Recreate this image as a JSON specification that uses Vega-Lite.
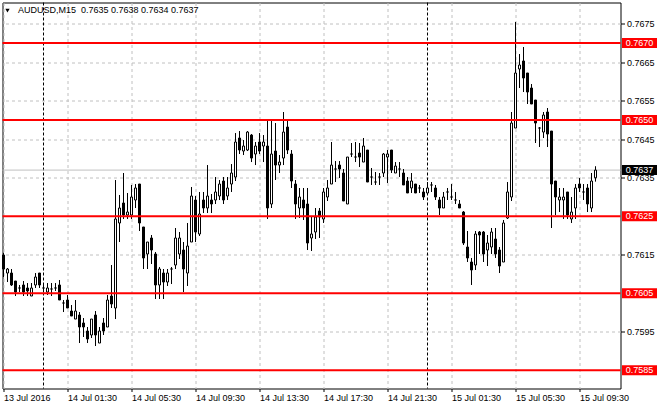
{
  "$schema": "https://vega.github.io/schema/vega-lite/v6.json",
  "width": 618,
  "height": 386,
  "autosize": {"type": "none"},
  "padding": {"left": 2.5, "top": 2.5, "right": 39.5, "bottom": 21.5},
  "background": "white",
  "config": {
    "view": {"stroke": "black", "strokeWidth": 1},
    "font": "Liberation Sans",
    "axis": {"labelFont": "Liberation Sans", "labelFontSize": 9, "labelColor": "black", "tickColor": "black", "domain": false, "gridColor": "#c0c0c0", "gridDash": [3, 3], "gridWidth": 1, "title": null}
  },
  "datasets": {
    "candles": [
      {"t":"2016-07-13T21:30","o":0.761495,"h":0.761547,"l":0.760923,"c":0.761131},
      {"t":"2016-07-13T21:45","o":0.761027,"h":0.761157,"l":0.760793,"c":0.761131},
      {"t":"2016-07-13T22:00","o":0.761027,"h":0.761131,"l":0.760690,"c":0.760716},
      {"t":"2016-07-13T22:15","o":0.760819,"h":0.760819,"l":0.760430,"c":0.760534},
      {"t":"2016-07-13T22:30","o":0.760638,"h":0.760716,"l":0.760534,"c":0.760638},
      {"t":"2016-07-13T22:45","o":0.760716,"h":0.760819,"l":0.760430,"c":0.760534},
      {"t":"2016-07-13T23:00","o":0.760638,"h":0.760767,"l":0.760430,"c":0.760560},
      {"t":"2016-07-13T23:15","o":0.760430,"h":0.760767,"l":0.760430,"c":0.760638},
      {"t":"2016-07-13T23:30","o":0.760716,"h":0.761027,"l":0.760638,"c":0.760923},
      {"t":"2016-07-13T23:45","o":0.761027,"h":0.761027,"l":0.760638,"c":0.760716},
      {"t":"2016-07-14T00:00","o":0.760638,"h":0.760767,"l":0.760534,"c":0.760638},
      {"t":"2016-07-14T00:15","o":0.760534,"h":0.760767,"l":0.760456,"c":0.760638},
      {"t":"2016-07-14T00:30","o":0.760612,"h":0.760767,"l":0.760430,"c":0.760612},
      {"t":"2016-07-14T00:45","o":0.760638,"h":0.760767,"l":0.760560,"c":0.760638},
      {"t":"2016-07-14T01:00","o":0.760716,"h":0.760845,"l":0.760326,"c":0.760326},
      {"t":"2016-07-14T01:15","o":0.760248,"h":0.760326,"l":0.760014,"c":0.760248},
      {"t":"2016-07-14T01:30","o":0.760326,"h":0.760456,"l":0.760118,"c":0.760118},
      {"t":"2016-07-14T01:45","o":0.760040,"h":0.760196,"l":0.759910,"c":0.759910},
      {"t":"2016-07-14T02:00","o":0.759832,"h":0.760326,"l":0.759832,"c":0.760040},
      {"t":"2016-07-14T02:15","o":0.759936,"h":0.760014,"l":0.759209,"c":0.759625},
      {"t":"2016-07-14T02:30","o":0.759729,"h":0.759858,"l":0.759365,"c":0.759625},
      {"t":"2016-07-14T02:45","o":0.759521,"h":0.759625,"l":0.759209,"c":0.759313},
      {"t":"2016-07-14T03:00","o":0.759417,"h":0.759832,"l":0.759339,"c":0.759832},
      {"t":"2016-07-14T03:15","o":0.759936,"h":0.760040,"l":0.759131,"c":0.759417},
      {"t":"2016-07-14T03:30","o":0.759209,"h":0.759625,"l":0.759209,"c":0.759521},
      {"t":"2016-07-14T03:45","o":0.759729,"h":0.759858,"l":0.759417,"c":0.759521},
      {"t":"2016-07-14T04:00","o":0.759625,"h":0.760456,"l":0.759625,"c":0.760326},
      {"t":"2016-07-14T04:15","o":0.760430,"h":0.761235,"l":0.760118,"c":0.760222},
      {"t":"2016-07-14T04:30","o":0.760118,"h":0.763442,"l":0.759832,"c":0.762430},
      {"t":"2016-07-14T04:45","o":0.762326,"h":0.763053,"l":0.761832,"c":0.762715},
      {"t":"2016-07-14T05:00","o":0.762845,"h":0.763624,"l":0.762430,"c":0.762533},
      {"t":"2016-07-14T05:15","o":0.762533,"h":0.763105,"l":0.762430,"c":0.762611},
      {"t":"2016-07-14T05:30","o":0.762533,"h":0.763313,"l":0.762430,"c":0.763001},
      {"t":"2016-07-14T05:45","o":0.762923,"h":0.763338,"l":0.762715,"c":0.763235},
      {"t":"2016-07-14T06:00","o":0.763338,"h":0.763338,"l":0.762118,"c":0.762326},
      {"t":"2016-07-14T06:15","o":0.762222,"h":0.762222,"l":0.761131,"c":0.761417},
      {"t":"2016-07-14T06:30","o":0.761521,"h":0.761832,"l":0.761131,"c":0.761832},
      {"t":"2016-07-14T06:45","o":0.761936,"h":0.762014,"l":0.761261,"c":0.761624},
      {"t":"2016-07-14T07:00","o":0.761521,"h":0.761573,"l":0.760352,"c":0.760716},
      {"t":"2016-07-14T07:15","o":0.760716,"h":0.761183,"l":0.760352,"c":0.761131},
      {"t":"2016-07-14T07:30","o":0.761027,"h":0.761131,"l":0.760352,"c":0.760793},
      {"t":"2016-07-14T07:45","o":0.760793,"h":0.761131,"l":0.760690,"c":0.761027},
      {"t":"2016-07-14T08:00","o":0.761131,"h":0.761183,"l":0.760741,"c":0.761131},
      {"t":"2016-07-14T08:15","o":0.761235,"h":0.762196,"l":0.761131,"c":0.761936},
      {"t":"2016-07-14T08:30","o":0.761521,"h":0.762092,"l":0.761391,"c":0.761936},
      {"t":"2016-07-14T08:45","o":0.761624,"h":0.761832,"l":0.760534,"c":0.761131},
      {"t":"2016-07-14T09:00","o":0.761027,"h":0.762326,"l":0.760690,"c":0.761728},
      {"t":"2016-07-14T09:15","o":0.761832,"h":0.763261,"l":0.761832,"c":0.763027},
      {"t":"2016-07-14T09:30","o":0.762923,"h":0.763027,"l":0.761832,"c":0.762092},
      {"t":"2016-07-14T09:45","o":0.762040,"h":0.763131,"l":0.761988,"c":0.762559},
      {"t":"2016-07-14T10:00","o":0.762923,"h":0.763131,"l":0.762585,"c":0.762715},
      {"t":"2016-07-14T10:15","o":0.762715,"h":0.763831,"l":0.762585,"c":0.763027},
      {"t":"2016-07-14T10:30","o":0.762923,"h":0.763079,"l":0.762585,"c":0.762819},
      {"t":"2016-07-14T10:45","o":0.762923,"h":0.763520,"l":0.762819,"c":0.763131},
      {"t":"2016-07-14T11:00","o":0.763027,"h":0.763442,"l":0.762923,"c":0.763338},
      {"t":"2016-07-14T11:15","o":0.763416,"h":0.763520,"l":0.762819,"c":0.762923},
      {"t":"2016-07-14T11:30","o":0.763027,"h":0.763520,"l":0.762923,"c":0.763235},
      {"t":"2016-07-14T11:45","o":0.763338,"h":0.763857,"l":0.763131,"c":0.763624},
      {"t":"2016-07-14T12:00","o":0.763520,"h":0.764662,"l":0.763416,"c":0.764429},
      {"t":"2016-07-14T12:15","o":0.764533,"h":0.764714,"l":0.764117,"c":0.764221},
      {"t":"2016-07-14T12:30","o":0.764195,"h":0.764481,"l":0.764091,"c":0.764325},
      {"t":"2016-07-14T12:45","o":0.764221,"h":0.764714,"l":0.764195,"c":0.764688},
      {"t":"2016-07-14T13:00","o":0.764610,"h":0.764636,"l":0.763909,"c":0.764013},
      {"t":"2016-07-14T13:15","o":0.764117,"h":0.764429,"l":0.763831,"c":0.764325},
      {"t":"2016-07-14T13:30","o":0.764429,"h":0.764662,"l":0.764117,"c":0.764195},
      {"t":"2016-07-14T13:45","o":0.764325,"h":0.764610,"l":0.763909,"c":0.764429},
      {"t":"2016-07-14T14:00","o":0.764325,"h":0.765000,"l":0.762430,"c":0.762715},
      {"t":"2016-07-14T14:15","o":0.762819,"h":0.765000,"l":0.762715,"c":0.764117},
      {"t":"2016-07-14T14:30","o":0.764195,"h":0.764922,"l":0.763442,"c":0.763831},
      {"t":"2016-07-14T14:45","o":0.763831,"h":0.764091,"l":0.763624,"c":0.763909},
      {"t":"2016-07-14T15:00","o":0.764013,"h":0.765208,"l":0.763831,"c":0.764688},
      {"t":"2016-07-14T15:15","o":0.764818,"h":0.765000,"l":0.764117,"c":0.764221},
      {"t":"2016-07-14T15:30","o":0.764117,"h":0.764221,"l":0.763235,"c":0.763416},
      {"t":"2016-07-14T15:45","o":0.763338,"h":0.763442,"l":0.762430,"c":0.762819},
      {"t":"2016-07-14T16:00","o":0.762715,"h":0.763235,"l":0.762456,"c":0.763001},
      {"t":"2016-07-14T16:15","o":0.762923,"h":0.763235,"l":0.762404,"c":0.762715},
      {"t":"2016-07-14T16:30","o":0.762819,"h":0.763235,"l":0.761624,"c":0.761806},
      {"t":"2016-07-14T16:45","o":0.761936,"h":0.762482,"l":0.761599,"c":0.762040},
      {"t":"2016-07-14T17:00","o":0.762092,"h":0.762715,"l":0.761910,"c":0.762482},
      {"t":"2016-07-14T17:15","o":0.762637,"h":0.762715,"l":0.761936,"c":0.762482},
      {"t":"2016-07-14T17:30","o":0.762430,"h":0.763235,"l":0.762326,"c":0.763131},
      {"t":"2016-07-14T17:45","o":0.763001,"h":0.763442,"l":0.762897,"c":0.763235},
      {"t":"2016-07-14T18:00","o":0.763338,"h":0.764429,"l":0.763338,"c":0.763831},
      {"t":"2016-07-14T18:15","o":0.763728,"h":0.763935,"l":0.763390,"c":0.763728},
      {"t":"2016-07-14T18:30","o":0.763831,"h":0.763935,"l":0.763494,"c":0.763728},
      {"t":"2016-07-14T18:45","o":0.763624,"h":0.763728,"l":0.762897,"c":0.762897},
      {"t":"2016-07-14T19:00","o":0.762819,"h":0.764039,"l":0.762819,"c":0.764039},
      {"t":"2016-07-14T19:15","o":0.764117,"h":0.764403,"l":0.764039,"c":0.764117},
      {"t":"2016-07-14T19:30","o":0.764039,"h":0.764429,"l":0.763909,"c":0.764039},
      {"t":"2016-07-14T19:45","o":0.764143,"h":0.764403,"l":0.763779,"c":0.764039},
      {"t":"2016-07-14T20:00","o":0.763909,"h":0.764533,"l":0.763909,"c":0.764325},
      {"t":"2016-07-14T20:15","o":0.764221,"h":0.764221,"l":0.763390,"c":0.763390},
      {"t":"2016-07-14T20:30","o":0.763520,"h":0.763754,"l":0.763313,"c":0.763520},
      {"t":"2016-07-14T20:45","o":0.763390,"h":0.763650,"l":0.763313,"c":0.763390},
      {"t":"2016-07-14T21:00","o":0.763520,"h":0.763624,"l":0.763313,"c":0.763520},
      {"t":"2016-07-14T21:15","o":0.763624,"h":0.764143,"l":0.763520,"c":0.764117},
      {"t":"2016-07-14T21:30","o":0.764039,"h":0.764221,"l":0.763364,"c":0.764117},
      {"t":"2016-07-14T21:45","o":0.764221,"h":0.764221,"l":0.763624,"c":0.763702},
      {"t":"2016-07-14T22:00","o":0.763624,"h":0.763909,"l":0.763624,"c":0.763805},
      {"t":"2016-07-14T22:15","o":0.763728,"h":0.763909,"l":0.763520,"c":0.763728},
      {"t":"2016-07-14T22:30","o":0.763624,"h":0.763728,"l":0.763313,"c":0.763313},
      {"t":"2016-07-14T22:45","o":0.763416,"h":0.763520,"l":0.763105,"c":0.763105},
      {"t":"2016-07-14T23:00","o":0.763235,"h":0.763624,"l":0.763105,"c":0.763416},
      {"t":"2016-07-14T23:15","o":0.763338,"h":0.763338,"l":0.763105,"c":0.763105},
      {"t":"2016-07-14T23:30","o":0.763235,"h":0.763313,"l":0.763105,"c":0.763235},
      {"t":"2016-07-14T23:45","o":0.763131,"h":0.763235,"l":0.762923,"c":0.763001},
      {"t":"2016-07-15T00:00","o":0.763105,"h":0.763390,"l":0.763105,"c":0.763235},
      {"t":"2016-07-15T00:15","o":0.763313,"h":0.763390,"l":0.763131,"c":0.763313},
      {"t":"2016-07-15T00:30","o":0.763235,"h":0.763313,"l":0.762923,"c":0.763001},
      {"t":"2016-07-15T00:45","o":0.762923,"h":0.763001,"l":0.762533,"c":0.762715},
      {"t":"2016-07-15T01:00","o":0.762715,"h":0.763131,"l":0.762715,"c":0.763001},
      {"t":"2016-07-15T01:15","o":0.763131,"h":0.763235,"l":0.762923,"c":0.763131},
      {"t":"2016-07-15T01:30","o":0.763001,"h":0.763338,"l":0.762923,"c":0.763001},
      {"t":"2016-07-15T01:45","o":0.762923,"h":0.763131,"l":0.762819,"c":0.762923},
      {"t":"2016-07-15T02:00","o":0.762819,"h":0.762923,"l":0.762715,"c":0.762715},
      {"t":"2016-07-15T02:15","o":0.762611,"h":0.762637,"l":0.761754,"c":0.761806},
      {"t":"2016-07-15T02:30","o":0.761702,"h":0.762118,"l":0.761313,"c":0.761417},
      {"t":"2016-07-15T02:45","o":0.761313,"h":0.761417,"l":0.760716,"c":0.761105},
      {"t":"2016-07-15T03:00","o":0.761235,"h":0.762118,"l":0.761105,"c":0.762040},
      {"t":"2016-07-15T03:15","o":0.762092,"h":0.762118,"l":0.761521,"c":0.762014},
      {"t":"2016-07-15T03:30","o":0.762092,"h":0.762118,"l":0.761313,"c":0.761521},
      {"t":"2016-07-15T03:45","o":0.761624,"h":0.762014,"l":0.761209,"c":0.761806},
      {"t":"2016-07-15T04:00","o":0.761702,"h":0.762196,"l":0.761521,"c":0.762092},
      {"t":"2016-07-15T04:15","o":0.761910,"h":0.762196,"l":0.761417,"c":0.761521},
      {"t":"2016-07-15T04:30","o":0.761624,"h":0.761702,"l":0.761027,"c":0.761209},
      {"t":"2016-07-15T04:45","o":0.761313,"h":0.762404,"l":0.761313,"c":0.762326},
      {"t":"2016-07-15T05:00","o":0.762456,"h":0.763390,"l":0.762430,"c":0.763131},
      {"t":"2016-07-15T05:15","o":0.763001,"h":0.765208,"l":0.762897,"c":0.764922},
      {"t":"2016-07-15T05:30","o":0.764792,"h":0.767546,"l":0.764792,"c":0.766221},
      {"t":"2016-07-15T05:45","o":0.766325,"h":0.766714,"l":0.765831,"c":0.766429},
      {"t":"2016-07-15T06:00","o":0.766533,"h":0.766896,"l":0.765727,"c":0.766091},
      {"t":"2016-07-15T06:15","o":0.766221,"h":0.766221,"l":0.765416,"c":0.765727},
      {"t":"2016-07-15T06:30","o":0.765831,"h":0.765935,"l":0.765416,"c":0.765416},
      {"t":"2016-07-15T06:45","o":0.765520,"h":0.765520,"l":0.764403,"c":0.764922},
      {"t":"2016-07-15T07:00","o":0.764792,"h":0.764818,"l":0.764299,"c":0.764792},
      {"t":"2016-07-15T07:15","o":0.764688,"h":0.765208,"l":0.764533,"c":0.765130},
      {"t":"2016-07-15T07:30","o":0.765208,"h":0.765312,"l":0.764299,"c":0.764636},
      {"t":"2016-07-15T07:45","o":0.764714,"h":0.764714,"l":0.762196,"c":0.763338},
      {"t":"2016-07-15T08:00","o":0.763416,"h":0.763416,"l":0.762533,"c":0.763001},
      {"t":"2016-07-15T08:15","o":0.762923,"h":0.763235,"l":0.762611,"c":0.763001},
      {"t":"2016-07-15T08:30","o":0.762923,"h":0.763235,"l":0.762430,"c":0.763001},
      {"t":"2016-07-15T08:45","o":0.763131,"h":0.763131,"l":0.762430,"c":0.762533},
      {"t":"2016-07-15T09:00","o":0.762430,"h":0.763001,"l":0.762326,"c":0.762611},
      {"t":"2016-07-15T09:15","o":0.762715,"h":0.763338,"l":0.762430,"c":0.763235},
      {"t":"2016-07-15T09:30","o":0.763338,"h":0.763494,"l":0.763131,"c":0.763235},
      {"t":"2016-07-15T09:45","o":0.763131,"h":0.763338,"l":0.762923,"c":0.763131},
      {"t":"2016-07-15T10:00","o":0.763235,"h":0.763338,"l":0.762611,"c":0.762819},
      {"t":"2016-07-15T10:15","o":0.762715,"h":0.763624,"l":0.762611,"c":0.763416},
      {"t":"2016-07-15T10:30","o":0.7635,"h":0.7638,"l":0.7634,"c":0.7637}
    ],
    "levels": [{"p": 0.7670}, {"p": 0.7650}, {"p": 0.7625}, {"p": 0.7605}, {"p": 0.7585}],
    "current": [{"p": 0.7637}],
    "separators": [{"t": "2016-07-14T00:00"}, {"t": "2016-07-15T00:00"}]
  },
  "layer": [
    {
      "data": {"name": "separators"},
      "mark": {"type": "rule", "color": "black", "strokeWidth": 1, "strokeDash": [3, 2]},
      "encoding": {
        "x": {
          "field": "t", "type": "temporal", "title": null,
          "scale": {"domain": [{"year": 2016, "month": 7, "date": 13, "hours": 21, "minutes": 26, "seconds": 15}, {"year": 2016, "month": 7, "date": 15, "hours": 12, "minutes": 3, "seconds": 45}], "nice": false, "padding": 0},
          "axis": {
            "orient": "bottom",
            "values": [
              {"year": 2016, "month": 7, "date": 13, "hours": 21, "minutes": 30},
              {"year": 2016, "month": 7, "date": 13, "hours": 23, "minutes": 30},
              {"year": 2016, "month": 7, "date": 14, "hours": 1, "minutes": 30},
              {"year": 2016, "month": 7, "date": 14, "hours": 3, "minutes": 30},
              {"year": 2016, "month": 7, "date": 14, "hours": 5, "minutes": 30},
              {"year": 2016, "month": 7, "date": 14, "hours": 7, "minutes": 30},
              {"year": 2016, "month": 7, "date": 14, "hours": 9, "minutes": 30},
              {"year": 2016, "month": 7, "date": 14, "hours": 11, "minutes": 30},
              {"year": 2016, "month": 7, "date": 14, "hours": 13, "minutes": 30},
              {"year": 2016, "month": 7, "date": 14, "hours": 15, "minutes": 30},
              {"year": 2016, "month": 7, "date": 14, "hours": 17, "minutes": 30},
              {"year": 2016, "month": 7, "date": 14, "hours": 19, "minutes": 30},
              {"year": 2016, "month": 7, "date": 14, "hours": 21, "minutes": 30},
              {"year": 2016, "month": 7, "date": 14, "hours": 23, "minutes": 30},
              {"year": 2016, "month": 7, "date": 15, "hours": 1, "minutes": 30},
              {"year": 2016, "month": 7, "date": 15, "hours": 3, "minutes": 30},
              {"year": 2016, "month": 7, "date": 15, "hours": 5, "minutes": 30},
              {"year": 2016, "month": 7, "date": 15, "hours": 7, "minutes": 30},
              {"year": 2016, "month": 7, "date": 15, "hours": 9, "minutes": 30}
            ],
            "grid": true,
            "ticks": true,
            "tickSize": 3,
            "tickOpacity": {"condition": {"test": "hours(datum.value) % 4 == 1", "value": 1}, "value": 0},
            "labelExpr": "hours(datum.value) % 4 != 1 ? '' : (date(datum.value) == 13 ? timeFormat(datum.value, '%d %b %Y') : timeFormat(datum.value, '%d %b %H:%M'))",
            "labelAlign": "left",
            "labelBaseline": "top",
            "labelPadding": 2,
            "labelOverlap": false,
            "labelFlush": false,
            "title": null
          }
        }
      }
    },
    {
      "data": {"name": "current"},
      "mark": {"type": "rule", "color": "#c0c0c0", "strokeWidth": 1},
      "encoding": {
        "y": {
          "field": "p", "type": "quantitative", "title": null,
          "scale": {"domain": [0.758028, 0.768052], "zero": false, "nice": false, "padding": 0},
          "axis": {
            "orient": "right",
            "values": [0.7675, 0.7665, 0.7655, 0.7645, 0.7635, 0.7615, 0.7595],
            "format": ".4f",
            "grid": true,
            "tickSize": 4,
            "labelPadding": 2,
            "title": null
          }
        }
      }
    },
    {
      "data": {"name": "candles"},
      "mark": {"type": "rule", "color": "black", "strokeWidth": 1},
      "encoding": {
        "x": {"field": "t", "type": "temporal", "title": null},
        "y": {"field": "l", "type": "quantitative", "title": null},
        "y2": {"field": "h"}
      }
    },
    {
      "data": {"name": "candles"},
      "mark": {"type": "bar", "size": 2, "stroke": "black", "strokeWidth": 1},
      "encoding": {
        "x": {"field": "t", "type": "temporal", "title": null, "scale": {"padding": 0, "nice": false}},
        "y": {"field": "o", "type": "quantitative", "title": null},
        "y2": {"field": "c"},
        "fill": {"condition": {"test": "datum.c < datum.o", "value": "black"}, "value": "white"}
      }
    },
    {
      "data": {"name": "levels"},
      "mark": {"type": "rule", "color": "#ff0000", "strokeWidth": 2},
      "encoding": {"y": {"field": "p", "type": "quantitative", "title": null}}
    },
    {
      "data": {"name": "levels"},
      "mark": {"type": "bar", "orient": "horizontal", "size": 10, "color": "#ff0000"},
      "encoding": {
        "x": {"datum": {"year": 2016, "month": 7, "date": 15, "hours": 12, "minutes": 9, "seconds": 22, "milliseconds": 500}, "type": "temporal", "title": null},
        "x2": {"datum": {"year": 2016, "month": 7, "date": 15, "hours": 14, "minutes": 20, "seconds": 37, "milliseconds": 500}},
        "y": {"field": "p", "type": "quantitative", "title": null, "scale": {"padding": 0, "nice": false, "zero": false}}
      }
    },
    {
      "data": {"name": "current"},
      "mark": {"type": "bar", "orient": "horizontal", "size": 10, "color": "black"},
      "encoding": {
        "x": {"datum": {"year": 2016, "month": 7, "date": 15, "hours": 12, "minutes": 9, "seconds": 22, "milliseconds": 500}, "type": "temporal", "title": null},
        "x2": {"datum": {"year": 2016, "month": 7, "date": 15, "hours": 14, "minutes": 20, "seconds": 37, "milliseconds": 500}},
        "y": {"field": "p", "type": "quantitative", "title": null}
      }
    },
    {
      "data": {"name": "levels"},
      "mark": {"type": "text", "color": "white", "font": "Liberation Sans", "fontSize": 9, "align": "center", "baseline": "middle"},
      "encoding": {
        "x": {"datum": {"year": 2016, "month": 7, "date": 15, "hours": 13, "minutes": 15}, "type": "temporal", "title": null},
        "y": {"field": "p", "type": "quantitative", "title": null},
        "text": {"field": "p", "type": "quantitative", "format": ".4f"}
      }
    },
    {
      "data": {"name": "current"},
      "mark": {"type": "text", "color": "white", "font": "Liberation Sans", "fontSize": 9, "align": "center", "baseline": "middle"},
      "encoding": {
        "x": {"datum": {"year": 2016, "month": 7, "date": 15, "hours": 13, "minutes": 15}, "type": "temporal", "title": null},
        "y": {"field": "p", "type": "quantitative", "title": null},
        "text": {"field": "p", "type": "quantitative", "format": ".4f"}
      }
    },
    {
      "data": {"values": [{}]},
      "mark": {"type": "point", "shape": "triangle-down", "filled": true, "color": "black", "size": 18, "opacity": 1},
      "encoding": {
        "x": {"datum": {"year": 2016, "month": 7, "date": 13, "hours": 21, "minutes": 45}, "type": "temporal", "title": null},
        "y": {"datum": 0.767839, "type": "quantitative", "title": null}
      }
    },
    {
      "data": {"values": [{}]},
      "mark": {"type": "text", "text": "AUDUSD,M15\u00a0\u00a00.7635 0.7638 0.7634 0.7637", "color": "black", "font": "Liberation Sans", "fontSize": 9, "align": "left", "baseline": "alphabetic"},
      "encoding": {
        "x": {"datum": {"year": 2016, "month": 7, "date": 13, "hours": 22, "minutes": 24, "seconds": 22, "milliseconds": 500}, "type": "temporal", "title": null},
        "y": {"datum": 0.767772, "type": "quantitative", "title": null}
      }
    }
  ]
}
